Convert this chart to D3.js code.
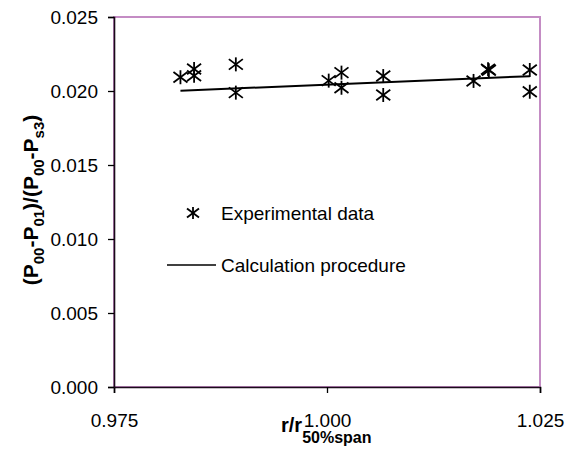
<!DOCTYPE html>
<html>
<head>
<meta charset="utf-8">
<script src="https://cdnjs.cloudflare.com/ajax/libs/d3/7.8.5/d3.min.js"></script>
<style>
  body { margin: 0; background: #fff; }
  svg { font-family: Arial, 'Liberation Sans', sans-serif; }
</style>
</head>
<body>
<div id="chart"></div>
<script>
// measured points (r/r50%span, pressure loss ratio)
const expR = [0.9828, 0.9844, 0.9844, 0.9893, 0.9893, 1.0002, 1.0017, 1.0017, 1.0066, 1.0066, 1.0172, 1.0189, 1.0190, 1.0238, 1.0238];
const expLoss = [0.02093, 0.02149, 0.02103, 0.02180, 0.01989, 0.02070, 0.02124, 0.02022, 0.02101, 0.01973, 0.02068, 0.02147, 0.02140, 0.02142, 0.01995];

// calculation procedure, straight line
const calcR = [0.9828, 1.0238];
const calcLoss = [0.02002, 0.02100];

const xTicks = [0.975, 1.000, 1.025];
const yTicks = [0, 0.005, 0.010, 0.015, 0.020, 0.025];

const width = 573;
const height = 449;
const margin = { left: 114, top: 17, right: 33, bottom: 62 };

const svg = d3.select('#chart').append('svg')
  .attr('width', width)
  .attr('height', height);

const x = d3.scaleLinear()
  .domain([0.975, 1.025])
  .range([margin.left, width - margin.right]);
const y = d3.scaleLinear()
  .domain([0, 0.025])
  .range([height - margin.bottom, margin.top]);

// plot frame (top / right are the pinkish border)
svg.append('rect')
  .attr('x', x(0.975))
  .attr('y', y(0.025))
  .attr('width', x(1.025) - x(0.975))
  .attr('height', y(0) - y(0.025))
  .attr('fill', 'none')
  .attr('stroke', '#c48cc4')
  .attr('stroke-width', 2);

const xAxis = svg.append('g')
  .attr('transform', `translate(0,${y(0)})`)
  .call(d3.axisBottom(x).tickValues(xTicks).tickFormat(d3.format('.3f')).tickSize(6).tickPadding(21));
const yAxis = svg.append('g')
  .attr('transform', `translate(${x(0.975)},0)`)
  .call(d3.axisLeft(y).tickValues(yTicks).tickFormat(d3.format('.3f')).tickSize(6).tickPadding(10));

[xAxis, yAxis].forEach((g) => {
  g.select('.domain').attr('stroke', '#1a0a1a').attr('stroke-width', 1.6);
  g.selectAll('.tick line').attr('stroke', '#000').attr('stroke-width', 1.3);
  g.selectAll('.tick text')
    .attr('fill', '#000')
    .attr('font-size', 19)
    .attr('font-family', 'Arial, Liberation Sans, sans-serif');
});

// line
const line = d3.line()
  .x((d, i) => x(calcR[i]))
  .y((d) => y(d));
svg.append('path')
  .datum(calcLoss)
  .attr('d', line)
  .attr('fill', 'none')
  .attr('stroke', '#000')
  .attr('stroke-width', 2);

// asterisk marker
function star(g, cx, cy, r) {
  const s = g.append('g').attr('transform', `translate(${cx},${cy})`)
    .attr('stroke', '#000').attr('stroke-width', 1.8);
  s.append('line').attr('x1', 0).attr('y1', -r).attr('x2', 0).attr('y2', r);
  s.append('line').attr('x1', -r).attr('y1', -r * 0.75).attr('x2', r).attr('y2', r * 0.75);
  s.append('line').attr('x1', -r).attr('y1', r * 0.75).attr('x2', r).attr('y2', -r * 0.75);
}

const pts = svg.append('g').attr('class', 'points');
expR.forEach((r, i) => star(pts, x(r), y(expLoss[i]), 7));

// legend
const legend = svg.append('g').attr('class', 'legend')
  .attr('font-size', 19);
star(legend, 193, 213, 6);
legend.append('text').attr('x', 221).attr('y', 220).text('Experimental data');
legend.append('line')
  .attr('x1', 167).attr('x2', 216)
  .attr('y1', 265).attr('y2', 265)
  .attr('stroke', '#000').attr('stroke-width', 1.5);
legend.append('text').attr('x', 221).attr('y', 272).text('Calculation procedure');

// axis titles
const xTitle = svg.append('text')
  .attr('x', 281).attr('y', 432)
  .attr('font-weight', 'bold')
  .attr('font-size', 20);
xTitle.append('tspan').text('r/r');
xTitle.append('tspan').attr('font-size', 16).attr('dy', 11).text('50%span');

const yTitle = svg.append('text')
  .attr('transform', 'translate(38,200) rotate(-90)')
  .attr('text-anchor', 'middle')
  .attr('font-weight', 'bold')
  .attr('font-size', 21);
const parts = [['(P', ''], ['00', 'sub'], ['-P', ''], ['01', 'sub'], [')/(P', ''], ['00', 'sub'], ['-P', ''], ['s3', 'sub'], [')', '']];
let shifted = false;
parts.forEach(([t, kind]) => {
  const ts = yTitle.append('tspan').text(t);
  if (kind === 'sub') {
    ts.attr('font-size', 15).attr('dy', shifted ? 0 : 6);
    shifted = true;
  } else {
    ts.attr('dy', shifted ? -6 : 0);
    shifted = false;
  }
});
</script>
</body>
</html>
